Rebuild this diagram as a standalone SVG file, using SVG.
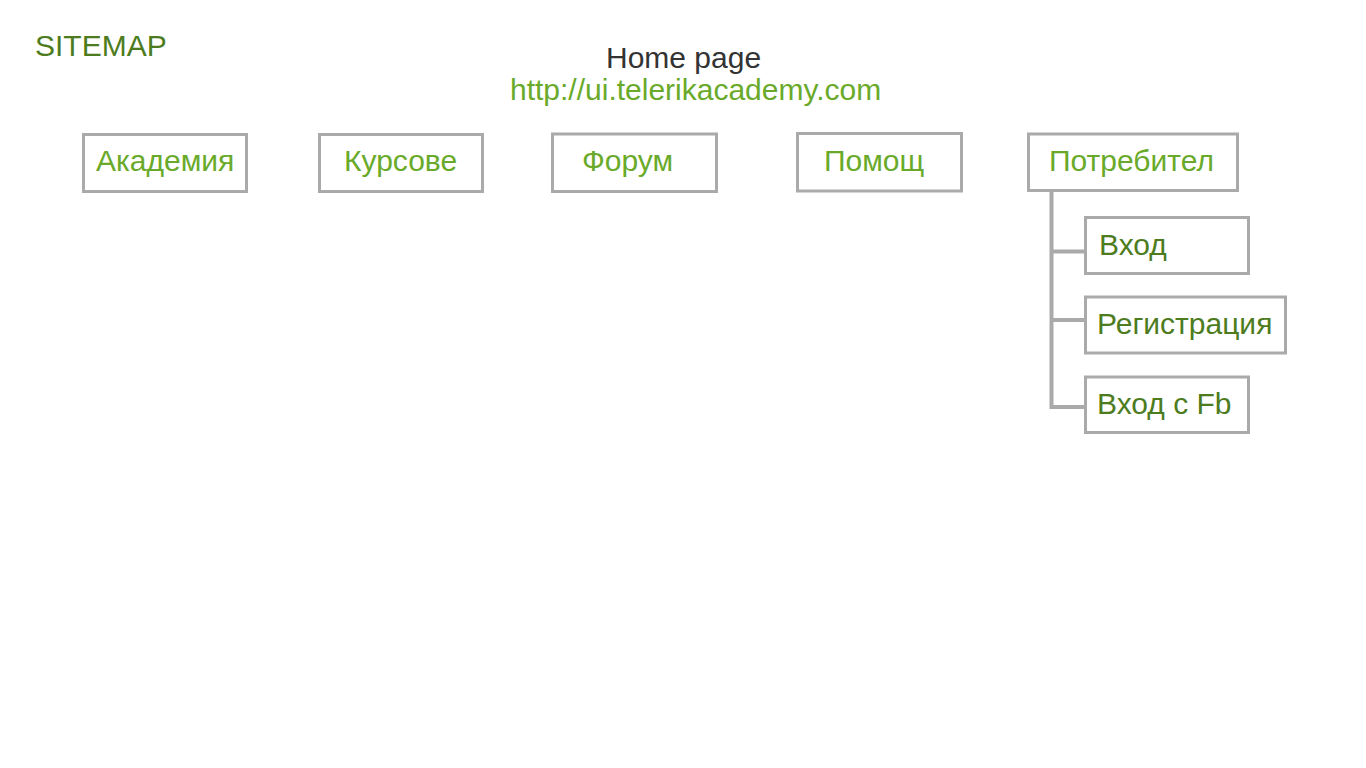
<svg xmlns="http://www.w3.org/2000/svg" width="1366" height="768" viewBox="0 0 1366 768">
<style>
text{font-family:"Liberation Sans",Arial,sans-serif;font-size:30px}
.box{fill:#fff;stroke:#aaaaaa;stroke-width:3}
.lt{fill:#6aaa2a}
.dk{fill:#4d7c1e}
.conn{fill:none;stroke:#aaaaaa;stroke-width:4}
</style>
<rect width="1366" height="768" fill="#fff"/>
<text id="title" x="35" y="56" class="dk">SITEMAP</text>
<g id="home">
<text x="606" y="68" fill="#333333">Home page</text>
<text x="510" y="100" class="lt">http://ui.telerikacademy.com</text>
</g>
<g id="connectors">
<path class="conn" d="M1051.5 191 V407 H1084 M1051.5 251.5 H1084 M1051.5 320 H1084"/>
</g>
<g id="n-akademia"><rect class="box" x="83.5" y="134.5" width="163" height="57"/><text x="96" y="171" class="lt">Академия</text></g>
<g id="n-kursove"><rect class="box" x="319.5" y="134.5" width="163" height="57"/><text x="344" y="171" class="lt">Курсове</text></g>
<g id="n-forum"><rect class="box" x="552.5" y="134" width="164" height="57.5"/><text x="582" y="171" class="lt">Форум</text></g>
<g id="n-pomosht"><rect class="box" x="797.5" y="133.5" width="164" height="57.5"/><text x="824" y="171" class="lt">Помощ</text></g>
<g id="n-potrebitel"><rect class="box" x="1028.5" y="134" width="209" height="56.5"/><text x="1049" y="171" class="lt">Потребител</text></g>
<g id="n-vhod"><rect class="box" x="1085.5" y="217.5" width="163" height="56"/><text x="1099" y="255" class="dk">Вход</text></g>
<g id="n-registracia"><rect class="box" x="1085.5" y="297" width="200" height="56"/><text x="1097" y="334" class="dk">Регистрация</text></g>
<g id="n-vhodfb"><rect class="box" x="1085.5" y="377" width="163" height="55.5"/><text x="1097" y="414" class="dk">Вход с Fb</text></g>
</svg>
